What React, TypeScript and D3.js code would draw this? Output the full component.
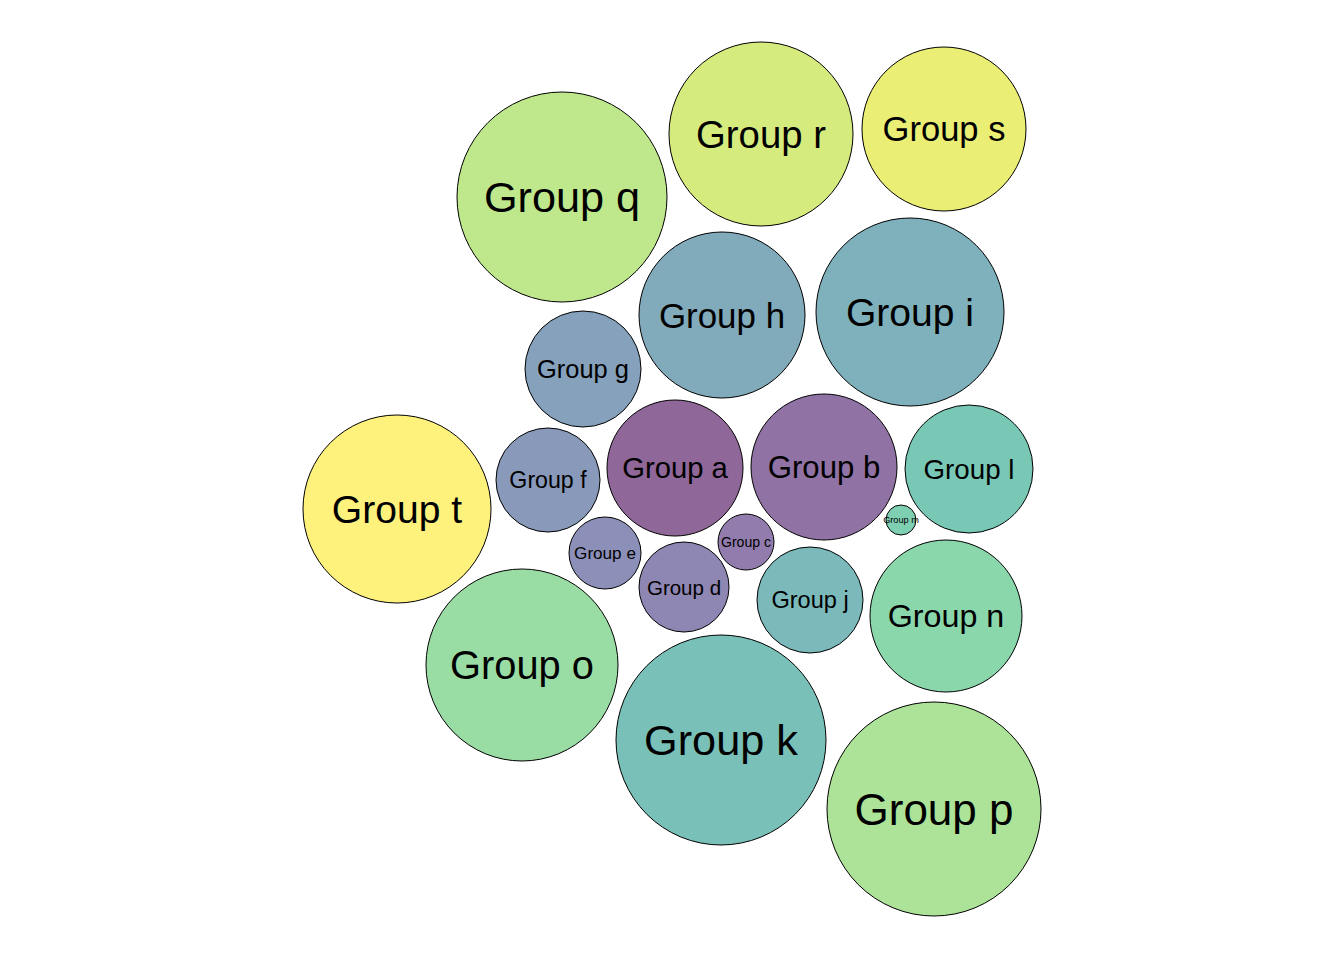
import * as d3 from "d3"

// circle-packing layout output (data units): group, centre x, centre y, radius
const groups = ["a", "b", "c", "d", "e", "f", "g", "h", "i", "j", "k", "l", "m", "n", "o", "p", "q", "r", "s", "t"]
const cxs = [675, 824, 746, 684, 605, 548, 583, 722, 910, 810, 721, 969, 901, 946, 522, 934, 562, 761, 944, 397]
const cys = [492, 493, 418, 373, 407, 480, 591, 645, 648, 360, 220, 491, 440, 344, 295, 151, 763, 826, 831, 451]
const radii = [68, 73, 28, 45, 36, 52, 58, 83, 94, 53, 105, 64, 15, 76, 96, 107, 105, 92, 82, 94]

const W = 1344
const H = 960

export default function App() {
  const sx = d3.scaleLinear().domain([0, W]).range([0, W])
  const sy = d3.scaleLinear().domain([0, H]).range([H, 0])
  const color = (i: number) => d3.interpolateViridis(i / (groups.length - 1))
  const font = d3.scaleLinear().domain([0, d3.max(radii)!]).range([3.5, 44])

  return (
    <svg width={W} height={H} style={{ display: "block", margin: -8 }}>
      <rect width={W} height={H} fill="#fff" />
      {groups.map((g, i) => (
        <circle key={g} cx={sx(cxs[i])} cy={sy(cys[i])} r={radii[i]} fill={color(i)} fillOpacity={0.6} stroke="#000" strokeWidth={1} />
      ))}
      {groups.map((g, i) => (
        <text key={g} x={sx(cxs[i])} y={sy(cys[i])} textAnchor="middle" dominantBaseline="central"
          fontFamily="Liberation Sans, Arial, sans-serif" fontSize={font(radii[i])} fill="#000">
          {"Group " + g}
        </text>
      ))}
    </svg>
  )
}
